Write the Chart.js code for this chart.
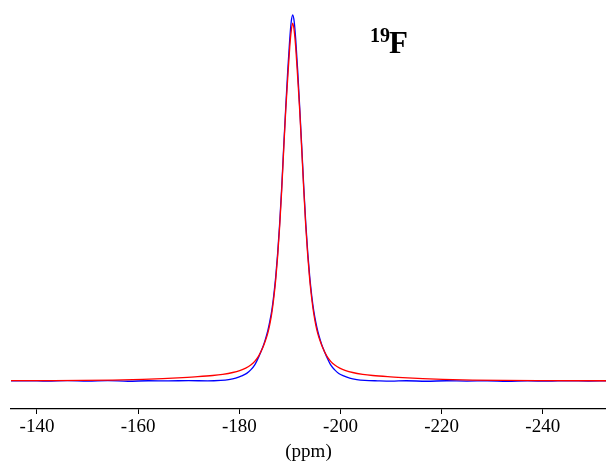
<!DOCTYPE html>
<html>
<head>
<meta charset="utf-8">
<script src="https://cdn.jsdelivr.net/npm/chart.js@4.4.1/dist/chart.umd.min.js"></script>
<style>
  html, body { margin: 0; padding: 0; background: #fff; }
  canvas { display: block; }
</style>
</head>
<body>
<canvas id="spec" width="606" height="462"></canvas>
<script>
// ===== Data =====
// chemical shift in ppm, intensity in arbitrary units (baseline = 0)
const bluePpm = [-134.86, -138.0, -142.0, -146.0, -150.0, -154.0, -158.0, -162.0, -166.0, -170.0,
  -173.75, -176.32, -177.90, -179.29, -180.48, -181.46, -182.26, -183.05, -183.84, -184.63,
  -185.12, -185.62, -186.01, -186.41, -186.80, -187.20, -187.59, -187.99, -188.39, -188.78,
  -189.18, -189.57, -189.97, -190.26, -190.56, -190.86, -191.15, -191.55, -191.94, -192.34,
  -192.74, -193.13, -193.53, -193.92, -194.32, -194.72, -195.11, -195.50, -196.00, -196.49,
  -197.28, -198.07, -198.87, -199.66, -200.64, -201.83, -203.22, -204.80, -207.37,
  -210.0, -213.0, -217.0, -221.0, -225.0, -229.0, -233.0, -237.0, -241.0, -245.0, -249.0, -252.5];
const blueInt = [0.0, 0.2, -0.2, 0.3, -0.1, 0.3, -0.3, 0.2, 0.1, 0.3,
  0.1, 0.6, 1.4, 2.8, 5, 7.5, 11, 16, 24, 33.5,
  41, 50, 59, 70, 85, 104, 128, 158, 194, 234,
  273, 309, 341, 358, 365, 358, 341, 309, 273, 234,
  194, 158, 128, 104, 85, 70, 59, 50, 41, 33.5,
  24, 16, 11, 7.5, 5, 2.8, 1.4, 0.6, 0.1,
  -0.2, 0.2, -0.3, 0.2, -0.1, 0.2, -0.3, 0.1, -0.2, 0.2, -0.1, 0.0];

const redPpm = [-134.86, -142.0, -149.03, -154.97, -160.90, -164.85, -168.81, -171.77, -174.74, -176.72,
  -178.70, -180.08, -181.27, -182.26, -183.05, -183.84, -184.63, -185.12, -185.62, -186.01,
  -186.41, -186.80, -187.20, -187.59, -187.99, -188.39, -188.78, -189.18, -189.57, -189.97,
  -190.26, -190.56, -190.86, -191.15, -191.55, -191.94, -192.34, -192.74, -193.13, -193.53,
  -193.92, -194.32, -194.72, -195.11, -195.50, -196.00, -196.49, -197.28, -198.07, -198.87,
  -199.85, -201.04, -202.42, -204.40, -206.38, -209.35, -212.31, -216.27, -220.22, -226.15,
  -232.09, -240.0, -252.5];
const redInt = [0.3, 0.35, 0.5, 0.9, 1.6, 2.3, 3.3, 4.2, 5.4, 6.6,
  8.4, 10.3, 12.8, 15.8, 19.5, 25, 33, 39.5, 47.5, 56,
  67, 82, 101, 125, 155, 191, 231, 270, 302, 333,
  349, 357, 349, 333, 302, 270, 231, 191, 155, 125,
  101, 82, 67, 56, 47.5, 39.5, 33, 25, 19.5, 15.8,
  12.8, 10.3, 8.4, 6.6, 5.4, 4.2, 3.3, 2.3, 1.6, 0.9,
  0.5, 0.3, 0.2];

const tickValues = [-140, -160, -180, -200, -220, -240];
const nucleusMass = "19";
const nucleusSymbol = "F";
const axisTitle = "(ppm)";

// ===== Helpers =====
function points(xs, ys) {
  return xs.map((x, i) => ({ x: x, y: ys[i] }));
}

// ===== Nucleus label plugin =====
const nucleusLabel = {
  id: "nucleusLabel",
  afterDraw(chart) {
    const ctx = chart.ctx;
    ctx.save();
    ctx.fillStyle = "#000";
    ctx.textBaseline = "alphabetic";
    ctx.textAlign = "left";
    ctx.font = "bold 20px 'Liberation Serif'";
    ctx.fillText(nucleusMass, 370, 42);
    ctx.font = "bold 31px 'Liberation Serif'";
    ctx.fillText(nucleusSymbol, 389, 53);
    ctx.restore();
  }
};

// ===== Chart =====
const serif = { family: "'Liberation Serif', 'Times New Roman', serif", size: 19, lineHeight: 1 };

new Chart(document.getElementById("spec").getContext("2d"), {
  type: "line",
  data: {
    datasets: [{
      label: "red",
      data: points(redPpm, redInt),
      borderColor: "#ff0000",
      borderWidth: 1.3,
      pointRadius: 0,
      cubicInterpolationMode: "monotone",
      fill: false
    }, {
      label: "blue",
      data: points(bluePpm, blueInt),
      borderColor: "#0000ff",
      borderWidth: 1.3,
      pointRadius: 0,
      cubicInterpolationMode: "monotone",
      fill: false
    }]
  },
  options: {
    responsive: false,
    animation: false,
    layout: { padding: { left: 11, right: 0, top: 10, bottom: 0 } },
    plugins: {
      legend: { display: false },
      tooltip: { enabled: false }
    },
    scales: {
      x: {
        type: "linear",
        reverse: true,
        min: -252.5,
        max: -134.86,
        afterBuildTicks: axis => {
          axis.ticks = tickValues.map(v => ({ value: v }));
        },
        grid: {
          display: true,
          drawOnChartArea: false,
          drawTicks: true,
          tickLength: 5,
          color: "#000",
          lineWidth: 1
        },
        border: { display: true, color: "#000", width: 1.3 },
        ticks: {
          color: "#000",
          font: serif,
          padding: 4,
          maxRotation: 0,
          autoSkip: false,
          callback: v => String(v)
        },
        title: {
          display: true,
          text: axisTitle,
          color: "#000",
          font: serif,
          padding: { top: 2, bottom: 0 }
        }
      },
      y: {
        display: false,
        min: -28,
        max: 370
      }
    }
  },
  plugins: [nucleusLabel]
});
</script>
</body>
</html>
